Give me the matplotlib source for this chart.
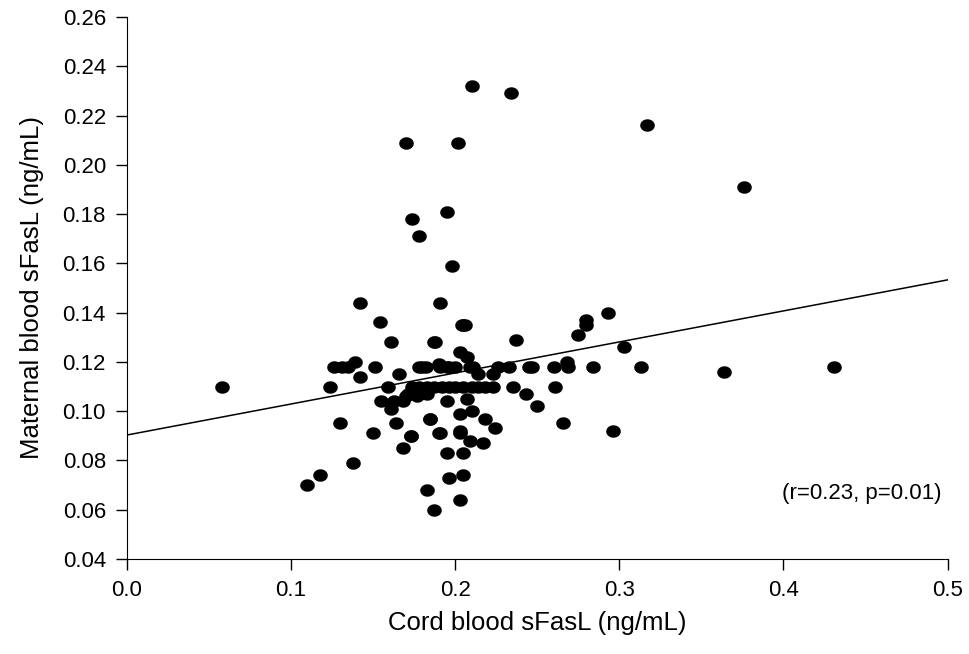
import numpy as np
import matplotlib
matplotlib.use('Agg')
import matplotlib.pyplot as plt
from matplotlib.path import Path

# Cord blood vs maternal blood sFasL (ng/mL)
cord = [0.058, 0.110, 0.118, 0.138, 0.130, 0.124, 0.126, 0.131, 0.135, 0.139, 0.142, 0.151,
        0.142, 0.154, 0.150, 0.155, 0.159, 0.161, 0.163, 0.164, 0.166, 0.161, 0.168, 0.170,
        0.173, 0.171, 0.177, 0.178, 0.183, 0.180, 0.182, 0.185, 0.187, 0.188, 0.190, 0.191,
        0.191, 0.195, 0.195, 0.196, 0.200, 0.203, 0.203, 0.203, 0.205, 0.207, 0.207, 0.209,
        0.210, 0.211, 0.214, 0.217, 0.218, 0.223, 0.224, 0.226, 0.233, 0.235, 0.237, 0.243,
        0.245, 0.247, 0.250, 0.260, 0.261, 0.266, 0.268, 0.269, 0.275, 0.280, 0.280, 0.284,
        0.293, 0.296, 0.303, 0.313, 0.364, 0.431, 0.183, 0.187, 0.196, 0.205, 0.203,
        0.174, 0.178, 0.183, 0.187, 0.192, 0.196, 0.200, 0.205, 0.210, 0.214, 0.218, 0.223,
        0.204, 0.206, 0.170, 0.202, 0.174, 0.178, 0.195, 0.198, 0.210, 0.234, 0.317, 0.376,
        0.190, 0.168, 0.173, 0.185, 0.191, 0.203, 0.209, 0.195, 0.205]
maternal = [0.110, 0.070, 0.074, 0.079, 0.095, 0.110, 0.118, 0.118, 0.118, 0.120, 0.114, 0.118,
            0.144, 0.136, 0.091, 0.104, 0.110, 0.101, 0.104, 0.095, 0.115, 0.128, 0.085, 0.106,
            0.090, 0.107, 0.106, 0.118, 0.107, 0.118, 0.118, 0.097, 0.128, 0.128, 0.119, 0.144,
            0.118, 0.104, 0.118, 0.118, 0.118, 0.124, 0.099, 0.091, 0.135, 0.122, 0.105, 0.118,
            0.100, 0.118, 0.115, 0.087, 0.097, 0.115, 0.093, 0.118, 0.118, 0.110, 0.129, 0.107,
            0.118, 0.118, 0.102, 0.118, 0.110, 0.095, 0.120, 0.118, 0.131, 0.137, 0.135, 0.118,
            0.140, 0.092, 0.126, 0.118, 0.116, 0.118, 0.068, 0.060, 0.073, 0.074, 0.064,
            0.110, 0.110, 0.110, 0.110, 0.110, 0.110, 0.110, 0.110, 0.110, 0.110, 0.110, 0.110,
            0.135, 0.135, 0.209, 0.209, 0.178, 0.171, 0.181, 0.159, 0.232, 0.229, 0.216, 0.191,
            0.091, 0.104, 0.090, 0.097, 0.091, 0.092, 0.088, 0.083, 0.083]

# regression line (intercept, slope) as drawn
intercept = 0.0903
slope = 0.126
line_x = [0.0, 0.5]

xticks = [0.0, 0.1, 0.2, 0.3, 0.4, 0.5]
yticks = [0.04, 0.06, 0.08, 0.10, 0.12, 0.14, 0.16, 0.18, 0.20, 0.22, 0.24, 0.26]

plt.rcParams['font.family'] = ['Liberation Sans', 'DejaVu Sans']

fig = plt.figure(figsize=(9.69, 6.54), dpi=100)
ax = fig.add_axes([0.1308, 0.1453, 0.978 - 0.1308, 0.974 - 0.1453])

# slightly wide oval marker
t = np.linspace(0, 2 * np.pi, 60)
oval = Path(np.column_stack([1.17 * np.cos(t), np.sin(t)]))

ax.scatter(cord, maternal, s=110, marker=oval, color='black', linewidths=0, zorder=3)
ax.plot(line_x, [intercept + slope * v for v in line_x], color='black', lw=1.1)

ax.set_xlim(0, 0.5)
ax.set_ylim(0.04, 0.26)
ax.set_xticks(xticks)
ax.set_xticklabels(['%.1f' % v for v in xticks])
ax.set_yticks(yticks)
ax.set_yticklabels(['%.2f' % v for v in yticks])
ax.spines['top'].set_visible(False)
ax.spines['right'].set_visible(False)
ax.tick_params(direction='out', length=8, width=1, labelsize=16, pad=7)

ax.set_xlabel('Cord blood sFasL (ng/mL)', fontsize=18.5)
ax.set_ylabel('Maternal blood sFasL (ng/mL)', fontsize=18.5)
ax.xaxis.label.set_va('center')
ax.yaxis.label.set_va('center')
ax.xaxis.set_label_coords(0.5, -0.118)
ax.yaxis.set_label_coords(-0.116, 0.5)
ax.text(0.496, 0.0665, '(r=0.23, p=0.01)', fontsize=16, ha='right', va='center')

fig.savefig('out.png', dpi=100)
